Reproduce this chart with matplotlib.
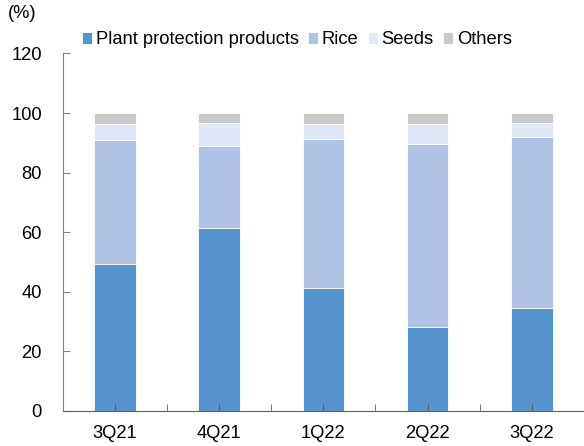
import matplotlib
matplotlib.use("Agg")
import matplotlib.pyplot as plt
import numpy as np

plt.rcParams['font.family'] = ['Liberation Sans', 'DejaVu Sans']

quarters = ['3Q21', '4Q21', '1Q22', '2Q22', '3Q22']
plant = [49.3, 61.4, 41.4, 28.2, 34.5]
rice = [41.6, 27.5, 49.9, 61.4, 57.4]
seeds = [5.4, 7.6, 5.0, 6.6, 4.6]
others = [3.7, 3.5, 3.7, 3.8, 3.5]

series = [('Plant protection products', plant, '#5694d0'),
          ('Rice', rice, '#aec3e5'),
          ('Seeds', seeds, '#e0e8f7'),
          ('Others', others, '#c9c9c9')]

fs = 13.2

fig = plt.figure(figsize=(5.84, 4.46), dpi=100)
ax = fig.add_axes([0.1074, 0.0785, 0.8926, 0.8016])

x = np.arange(len(quarters))
bottom = np.zeros(len(quarters))
for name, vals, col in series:
    ax.bar(x, vals, 0.4, bottom=bottom, color=col, label=name,
           edgecolor='white', linewidth=0.6)
    bottom += np.array(vals)

ax.set_xlim(-0.5, 4.5)
ax.set_ylim(0, 120)
ax.set_yticks(range(0, 121, 20))
ax.set_xticks(x)
ax.set_xticklabels(quarters)
ax.set_xticks(np.arange(0.5, 4.5, 1), minor=True)

for s in ['top', 'right']:
    ax.spines[s].set_visible(False)
ax.spines['left'].set_color('#808080')
ax.spines['bottom'].set_color('#606060')
ax.tick_params(axis='y', direction='in', length=5, color='#808080',
               labelsize=fs, pad=15)
ax.tick_params(axis='x', which='both', direction='in', length=5,
               color='#606060', labelsize=fs, pad=10)

fig.text(8 / 584, 1 - 5 / 446, '(%)', fontsize=fs, va='top', ha='left')

fig.legend(loc='center', bbox_to_anchor=(297 / 584, 1 - 40 / 446), ncol=4,
           frameon=False, fontsize=fs, handlelength=0.55, handleheight=0.55,
           handletextpad=0.2, columnspacing=0.5, borderaxespad=0)

fig.savefig('out.png', dpi=100)
